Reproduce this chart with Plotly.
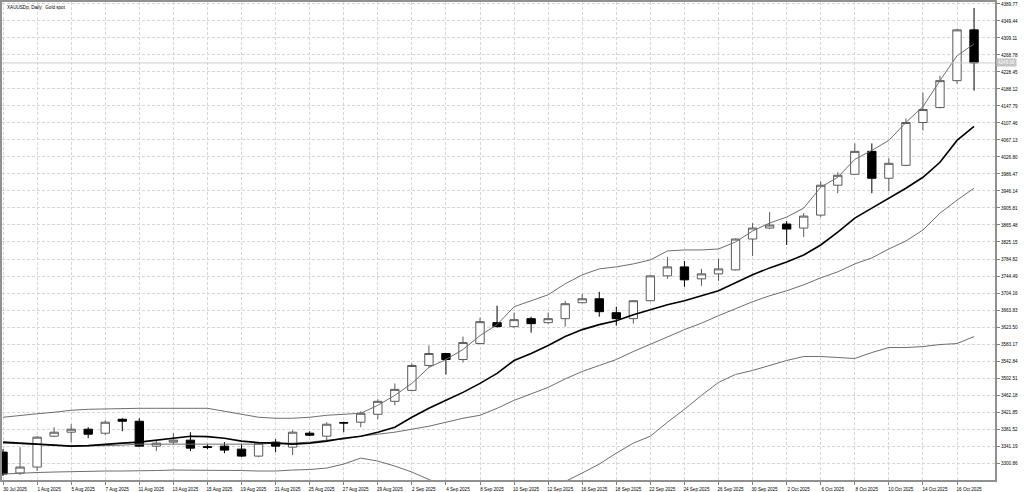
import plotly.graph_objects as go

# ---------------------------------------------------------------------------
# Data (XAUUSDp daily, 30 Jul 2025 - 17 Oct 2025)
# ---------------------------------------------------------------------------
dates = ["30 Jul 2025", "31 Jul 2025", "1 Aug 2025", "4 Aug 2025", "5 Aug 2025", "6 Aug 2025",
         "7 Aug 2025", "8 Aug 2025", "11 Aug 2025", "12 Aug 2025", "13 Aug 2025", "14 Aug 2025",
         "15 Aug 2025", "18 Aug 2025", "19 Aug 2025", "20 Aug 2025", "21 Aug 2025", "22 Aug 2025",
         "25 Aug 2025", "26 Aug 2025", "27 Aug 2025", "28 Aug 2025", "29 Aug 2025", "1 Sep 2025",
         "2 Sep 2025", "3 Sep 2025", "4 Sep 2025", "5 Sep 2025", "8 Sep 2025", "9 Sep 2025",
         "10 Sep 2025", "11 Sep 2025", "12 Sep 2025", "15 Sep 2025", "16 Sep 2025", "17 Sep 2025",
         "18 Sep 2025", "19 Sep 2025", "22 Sep 2025", "23 Sep 2025", "24 Sep 2025", "25 Sep 2025",
         "26 Sep 2025", "29 Sep 2025", "30 Sep 2025", "1 Oct 2025", "2 Oct 2025", "3 Oct 2025",
         "6 Oct 2025", "7 Oct 2025", "8 Oct 2025", "9 Oct 2025", "10 Oct 2025", "13 Oct 2025",
         "14 Oct 2025", "15 Oct 2025", "16 Oct 2025", "17 Oct 2025"]

open_ = [3326.84, 3277.24, 3291.41, 3364.63, 3374.07, 3381.16, 3371.71, 3404.77, 3400.05, 3341.01,
         3350.46, 3355.18, 3339.80, 3341.01, 3333.92, 3317.39, 3350.46, 3338.65, 3371.71, 3364.63,
         3397.00, 3397.69, 3416.58, 3447.29, 3473.26, 3532.31, 3560.65, 3546.48, 3584.26, 3633.86,
         3624.41, 3643.31, 3633.86, 3643.31, 3681.09, 3690.54, 3657.48, 3643.31, 3685.82, 3744.86,
         3766.11, 3737.77, 3749.58, 3759.03, 3832.24, 3858.22, 3867.67, 3858.22, 3888.92, 3959.77,
         3985.75, 4040.07, 3976.31, 4007.01, 4108.56, 4143.99, 4207.75, 4328.20]
high = [3333.92, 3338.65, 3364.63, 3385.88, 3392.97, 3385.88, 3402.41, 3407.14, 3407.14, 3355.18,
        3371.71, 3374.07, 3345.73, 3350.46, 3345.73, 3350.46, 3357.54, 3378.80, 3376.43, 3397.69,
        3399.00, 3423.67, 3452.01, 3489.80, 3537.03, 3579.54, 3561.50, 3600.80, 3645.67, 3674.01,
        3657.48, 3648.03, 3657.48, 3685.82, 3702.35, 3707.07, 3671.65, 3686.50, 3746.00, 3789.73,
        3780.29, 3761.39, 3785.01, 3833.50, 3870.03, 3896.01, 3874.75, 3893.65, 3969.22, 3990.48,
        4058.97, 4058.97, 4023.54, 4118.01, 4179.41, 4219.56, 4330.50, 4380.16]
low = [3270.16, 3272.52, 3281.97, 3362.26, 3350.46, 3359.90, 3366.99, 3376.43, 3340.00, 3329.20,
       3345.73, 3329.20, 3333.92, 3324.48, 3315.03, 3315.03, 3326.84, 3319.75, 3364.63, 3352.82,
       3374.07, 3385.88, 3404.77, 3437.84, 3471.00, 3527.58, 3511.05, 3539.39, 3583.00, 3622.50,
       3622.05, 3610.24, 3631.50, 3624.41, 3680.00, 3648.03, 3626.77, 3631.50, 3684.50, 3737.77,
       3718.88, 3721.24, 3733.05, 3757.50, 3792.09, 3855.86, 3818.07, 3836.97, 3884.20, 3940.88,
       3984.00, 3940.88, 3945.60, 4005.00, 4089.67, 4142.00, 4200.67, 4184.14]
close = [3274.88, 3291.41, 3362.30, 3374.07, 3381.16, 3369.35, 3397.69, 3400.05, 3341.01, 3348.09,
         3355.18, 3336.29, 3338.00, 3331.56, 3317.39, 3348.09, 3341.01, 3374.07, 3366.99, 3392.97,
         3395.80, 3418.95, 3447.29, 3475.63, 3532.31, 3560.65, 3546.48, 3586.63, 3636.22, 3624.41,
         3640.94, 3631.50, 3643.31, 3678.73, 3690.54, 3659.84, 3643.31, 3685.82, 3744.86, 3766.11,
         3735.41, 3749.58, 3761.39, 3832.24, 3858.22, 3865.31, 3855.86, 3886.56, 3959.77, 3983.39,
         4040.07, 3976.31, 4011.73, 4108.56, 4139.26, 4207.75, 4328.20, 4249.90]

# Bollinger bands (upper / middle / lower) and a moving average (thick line)
bb_upper = [3409.50, 3414.22, 3417.76, 3421.31, 3426.03, 3428.39, 3429.57, 3430.75, 3430.75, 3430.75,
            3430.75, 3430.75, 3430.75, 3423.67, 3416.58, 3409.50, 3407.14, 3407.14, 3409.50, 3414.22,
            3416.58, 3418.95, 3437.84, 3461.46, 3489.80, 3527.58, 3546.48, 3570.09, 3603.16, 3629.14,
            3671.65, 3685.82, 3699.99, 3725.97, 3747.22, 3761.39, 3766.11, 3773.20, 3782.65, 3803.90,
            3806.26, 3806.26, 3808.63, 3825.16, 3851.14, 3870.03, 3884.20, 3905.46, 3955.05, 3978.67,
            4021.18, 4042.43, 4066.05, 4108.56, 4146.35, 4207.75, 4266.80, 4295.14]
bb_middle = [3348.09, 3346.91, 3345.73, 3343.37, 3341.01, 3341.01, 3342.19, 3343.37, 3345.73, 3345.73,
             3345.73, 3346.91, 3346.91, 3346.91, 3345.73, 3345.73, 3348.09, 3348.09, 3350.46, 3355.18,
             3357.54, 3364.63, 3369.35, 3374.07, 3381.16, 3388.24, 3397.69, 3407.14, 3414.22, 3430.75,
             3449.65, 3465.00, 3480.35, 3500.42, 3518.14, 3532.31, 3546.48, 3565.37, 3581.90, 3599.85,
             3617.33, 3632.68, 3650.39, 3666.92, 3683.46, 3697.63, 3709.43, 3723.60, 3740.14, 3754.31,
             3773.20, 3787.37, 3808.63, 3827.52, 3853.50, 3893.65, 3924.35, 3952.69]
bb_lower = [3274.88, 3277.24, 3278.42, 3279.60, 3280.79, 3281.97, 3281.97, 3281.97, 3281.97, 3283.15,
            3284.33, 3284.33, 3284.33, 3284.33, 3283.15, 3281.97, 3281.97, 3284.33, 3285.51, 3289.05,
            3298.50, 3312.67, 3305.58, 3293.77, 3279.60, 3261.89, 3244.18, 3227.65, 3215.84, 3208.75,
            3211.12, 3222.92, 3239.46, 3257.17, 3277.24, 3298.50, 3324.48, 3348.09, 3364.63, 3397.69,
            3428.39, 3461.46, 3492.16, 3511.05, 3520.50, 3532.31, 3544.12, 3553.56, 3553.56, 3551.20,
            3548.84, 3563.01, 3574.82, 3574.82, 3577.18, 3581.90, 3584.26, 3600.80]
ma = [3350.46, 3348.09, 3345.73, 3343.37, 3341.01, 3342.19, 3345.73, 3348.09, 3350.46, 3355.18,
      3359.90, 3364.63, 3363.45, 3359.90, 3352.82, 3349.27, 3348.09, 3345.73, 3348.09, 3352.82,
      3359.90, 3364.63, 3374.07, 3385.88, 3409.50, 3430.75, 3449.65, 3468.54, 3489.80, 3513.41,
      3544.12, 3560.65, 3579.54, 3600.80, 3617.33, 3629.14, 3638.58, 3652.75, 3664.56, 3676.37,
      3685.82, 3697.63, 3709.43, 3728.33, 3747.22, 3763.75, 3777.92, 3794.46, 3818.07, 3848.77,
      3881.84, 3905.46, 3929.07, 3952.69, 3978.67, 4014.09, 4066.05, 4099.11]

price_ticks = [4389.77, 4349.44, 4309.11, 4268.78, 4228.45, 4188.12, 4147.79, 4107.46, 4067.13,
               4026.80, 3986.47, 3946.14, 3905.81, 3865.48, 3825.15, 3784.82, 3744.49, 3704.16,
               3663.83, 3623.50, 3583.17, 3542.84, 3502.51, 3462.18, 3421.85, 3381.52, 3341.19,
               3300.86]

idx = list(range(len(dates)))
date_ticks = idx[::2]
date_labels = dates[::2]

FONT = "Liberation Sans"
GRID = "#d6d6d6"

fig = go.Figure()

thin = dict(color="#6e6e6e", width=1)
fig.add_trace(go.Scatter(x=idx, y=bb_upper, mode="lines", line=thin, hoverinfo="skip"))
fig.add_trace(go.Scatter(x=idx, y=bb_middle, mode="lines", line=thin, hoverinfo="skip"))
fig.add_trace(go.Scatter(x=idx, y=bb_lower, mode="lines", line=thin, hoverinfo="skip"))
fig.add_trace(go.Scatter(x=idx, y=ma, mode="lines", line=dict(color="black", width=1.6), hoverinfo="skip"))

fig.add_trace(go.Candlestick(
    x=idx, open=open_, high=high, low=low, close=close,
    increasing=dict(fillcolor="white", line=dict(color="#5a5a5a", width=1)),
    decreasing=dict(fillcolor="black", line=dict(color="black", width=1)),
    whiskerwidth=0,
))

last = close[-1]
# current price line + label on the price scale
fig.add_hline(y=last, line=dict(color="#cccccc", width=1))
fig.add_annotation(x=1, xref="paper", y=last, yref="y", text=f"{last:.2f}", showarrow=False,
                   xanchor="left", yanchor="middle", xshift=1, bgcolor="#c4c4c4",
                   font=dict(family=FONT, size=4.6, color="white"), borderpad=1)

fig.add_annotation(x=0.003, xref="paper", y=0.997, yref="paper", text="XAUUSDp, Daily:  Gold spot",
                   showarrow=False, xanchor="left", yanchor="top",
                   font=dict(family=FONT, size=4.6, color="black"))

fig.update_layout(
    width=1024, height=492,
    margin=dict(l=0, r=29, t=1, b=11),
    paper_bgcolor="white", plot_bgcolor="white",
    showlegend=False,
    boxgap=0.3,
    hovermode=False,
    font=dict(family=FONT, size=4.6, color="black"),
)
fig.update_xaxes(
    range=[-0.06, 58.23], rangeslider_visible=False,
    tickvals=date_ticks, ticktext=date_labels, ticklabelshift=12,
    ticks="outside", ticklen=3, tickcolor="#808080",
    showgrid=True, gridcolor=GRID, griddash="3px,2px", gridwidth=1,
    showline=True, linecolor="#909090", linewidth=2, mirror=True,
    zeroline=False, tickfont=dict(family=FONT, size=4.6, color="black"),
)
fig.update_yaxes(
    range=[3260.7, 4394.3], side="right",
    tickvals=price_ticks, ticktext=[f"{v:.2f}" for v in price_ticks],
    ticks="outside", ticklen=3, tickcolor="#808080",
    showgrid=True, gridcolor=GRID, griddash="3px,2px", gridwidth=1,
    showline=True, linecolor="#909090", linewidth=2, mirror=True,
    zeroline=False, tickfont=dict(family=FONT, size=4.6, color="black"),
)

# the browser's default 8px body margin would shift the chart; remove it
fig.write_html("out.html", config={"displayModeBar": False},
               post_script="document.body.style.margin='0';")
